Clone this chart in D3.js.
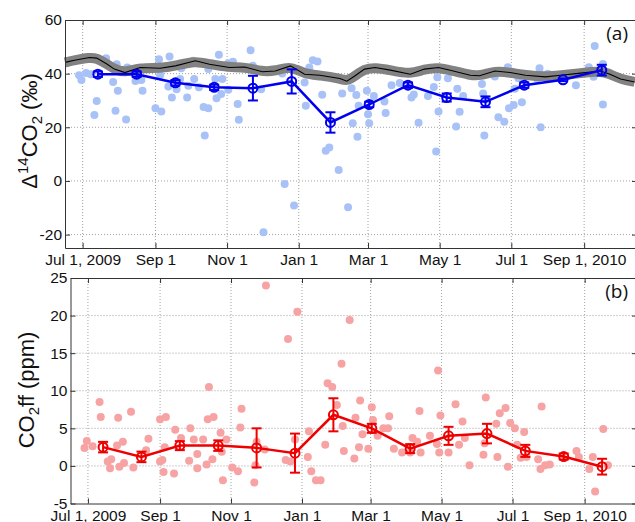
<!DOCTYPE html>
<html>
<head>
<meta charset="utf-8">
<script src="https://cdn.jsdelivr.net/npm/d3@7"></script>
<style>
  body { margin: 0; background: #fff; }
  svg { display: block; font-family: "Liberation Sans", Arial, sans-serif; }
</style>
</head>
<body>
<svg id="chart" width="635" height="522"></svg>
<script>
// days are counted from Jul 1, 2009
var start = new Date(2009, 6, 1);
var tickDays = [0, 62, 123, 184, 243, 304, 365, 427];
var tickLabels = ["Jul 1, 2009", "Sep 1", "Nov 1", "Jan 1", "Mar 1", "May 1", "Jul 1", "Sep 1, 2010"];

// background D14CO2 curve (black line with gray band)
var bgDay = [-15,-7,6,12,21,27,36,49,66,79,96,108,125,138,153,164,177,189,202,219,225,232,240,249,262,279,291,303,313,330,338,351,364,377,394,407,424,441,449,458,470];
var bgD14 = [44.2,45.0,46.0,45.8,43.5,41.7,40.4,42.3,42.0,42.9,44.8,43.5,42.3,42.5,40.7,41.0,42.9,39.8,39.4,38.2,37.2,39.2,41.7,42.3,41.3,39.8,41.7,42.3,41.3,39.4,39.2,41.0,40.4,39.4,38.8,39.4,40.2,41.0,39.8,38.0,36.9];

// individual D14CO2 samples
var d14Day = [-3,-1,3,7,12,10,20,29,26,30,28,37,38,45,50,51,62,67,65,74,66,62,73,76,80,83,84,89,90,94,95,99,103,107,104,107,113,114,116,118,119,124,124,128,132,133,143,145,152,154,170,172,180,190,189,193,196,200,204,207,210,218,221,226,229,230,233,234,235,242,243,244,248,257,258,263,270,280,282,286,294,299,301,302,303,311,318,319,321,324,328,340,341,342,344,351,354,359,362,363,367,368,371,374,387,389,390,396,420,431,435,436,443,443,448];
var d14Val = [39.4,37.6,40.2,39.8,29.8,24.6,45.7,43.5,36.9,33.6,26.2,22.9,42.3,37.3,37.6,33.6,27.1,25.9,45.4,46.4,39.4,41.9,35.2,31.1,34.2,38.0,42.0,31.1,35.5,44.8,38.0,34.9,27.6,27.1,16.9,41.7,38.0,30.8,47.0,32.4,38.0,34.0,43.9,44.4,28.7,22.8,48.7,42.9,34.2,-19.1,40.1,-1.1,-9.2,28.0,36.7,42.3,45.0,44.5,32.1,11.3,12.5,4.1,32.6,-9.8,34.6,21.5,32.0,16.5,28.0,33.6,24.9,21.5,31.7,29.6,25.3,35.7,36.5,31.1,32.2,21.7,31.7,35.0,11.0,38.7,25.9,38.3,20.3,34.4,25.8,31.7,40.1,36.1,32.6,16.9,30.5,38.9,23.7,22.1,42.4,27.1,28.3,34.4,38.3,29.3,38.1,42.0,20.0,40.0,35.7,42.4,38.8,50.3,43.6,28.5,40.4];

// monthly means with errors
var meanDay = [13,46,79,112,145,178,211,244,277,310,343,376,409,442];
var d14Mean = [39.8,39.8,36.6,34.9,34.6,37.1,21.8,28.5,35.7,31.1,29.5,35.7,37.7,41.3];
var d14Err = [1,1,1,1,4.6,4.5,3.8,1,1,1.5,2,1,0.5,2];

// CO2ff samples
var ffDay = [-3,-1,4,10,11,17,20,19,26,25,27,30,31,37,39,50,52,62,67,62,64,66,65,74,75,80,88,87,91,94,94,99,102,104,103,108,107,114,115,116,119,124,129,131,132,143,145,144,153,152,170,172,180,174,178,190,189,192,196,200,204,206,210,214,218,219,220,225,229,230,233,234,236,241,244,245,249,254,258,259,263,270,277,279,283,285,286,294,300,301,303,302,310,316,322,319,324,328,342,340,341,352,351,354,359,363,361,367,369,372,375,377,387,390,389,393,397,420,422,431,434,436,443,447];
var ffVal = [2.4,3.3,2.6,8.5,6.5,0.6,0.9,-0.3,6.4,2.7,-0.1,3.2,0.4,7.2,-0.2,2.1,3.6,6.2,6.5,0.6,0.8,2.5,-0.8,-1.0,4.8,3.7,5.0,0.7,3.5,-0.3,1.6,3.5,0.2,10.5,6.2,6.5,0.9,4.4,1.9,-1.9,3.5,-0.2,-0.7,5.1,7.6,-2.2,3.2,0.1,24.0,2.2,0.8,16.9,20.5,0.6,3.5,4.6,1.2,-0.7,-1.9,-1.9,2.8,11.0,10.5,8.1,13.6,5.3,2.0,19.4,1.0,6.4,2.5,8.7,4.2,2.3,7.8,6.1,4.0,5.0,5.0,6.6,2.3,1.8,1.8,3.7,3.2,7.3,1.8,4.0,2.9,12.7,6.7,1.8,1.8,8.2,5.9,2.8,3.7,0.1,9.1,1.5,3.0,1.2,5.6,7.0,7.7,5.7,-0.1,5.0,2.8,1.1,4.5,1.2,0.9,7.9,-0.4,0.1,0.2,2.0,1.2,-0.4,1.2,-3.4,4.9,0.1];
var ffMean = [2.5,1.2,2.7,2.7,2.4,1.7,6.8,5.0,2.3,4.0,4.3,2.0,1.25,-0.1];
var ffErr = [0.7,0.7,0.6,0.7,2.6,2.6,2.2,0.6,0.6,1.2,1.3,0.8,0.4,1.05];

function day(d) { return d3.timeDay.offset(start, d); }

var svg = d3.select('#chart');
var xDomain = [day(-15), day(472)];

function drawPanel(o) {
  var x = d3.scaleTime().domain(xDomain).range([o.left, o.right]);
  var y = d3.scaleLinear().domain(o.yDomain).range([o.bottom, o.top]);
  var g = svg.append('g');
  var px = function (d) { return x(day(d[0])); };
  var py = function (d) { return y(d[1]); };

  // grid
  g.selectAll('.vgrid').data(tickDays).enter().append('line')
    .attr('x1', function (d) { return x(day(d)); })
    .attr('x2', function (d) { return x(day(d)); })
    .attr('y1', o.top).attr('y2', o.bottom)
    .attr('stroke', '#8a8a8a').attr('stroke-width', 0.8).attr('stroke-dasharray', '1,2');
  g.selectAll('.hgrid').data(o.yTicks).enter().append('line')
    .attr('x1', o.left).attr('x2', o.right)
    .attr('y1', function (d) { return y(d); })
    .attr('y2', function (d) { return y(d); })
    .attr('stroke', '#8a8a8a').attr('stroke-width', 0.8).attr('stroke-dasharray', '1,2');

  // samples
  g.selectAll('.pt').data(d3.zip(o.sDay, o.sVal)).enter().append('circle')
    .attr('cx', px).attr('cy', py)
    .attr('r', 4)
    .attr('fill', o.light);

  if (o.bg) {
    var bgData = d3.zip(o.bg[0], o.bg[1]);
    g.append('path').datum(bgData)
      .attr('d', d3.line().x(px).y(py).curve(d3.curveBasis))
      .attr('fill', 'none').attr('stroke', '#828282').attr('stroke-width', 10);
    g.append('path').datum(bgData)
      .attr('d', d3.line().x(px).y(py))
      .attr('fill', 'none').attr('stroke', '#000').attr('stroke-width', 1.1);
  }

  // means with error bars
  var means = d3.zip(meanDay, o.mean, o.err);
  g.append('path').datum(means)
    .attr('d', d3.line().x(px).y(py))
    .attr('fill', 'none').attr('stroke', o.dark).attr('stroke-width', 2.5);
  var eb = g.selectAll('.eb').data(means).enter().append('g')
    .attr('stroke', o.dark).attr('stroke-width', 2).attr('fill', 'none');
  eb.append('line')
    .attr('x1', px).attr('x2', px)
    .attr('y1', function (d) { return y(d[1] - d[2]); })
    .attr('y2', function (d) { return y(d[1] + d[2]); });
  [-1, 1].forEach(function (s) {
    eb.append('line')
      .attr('x1', function (d) { return px(d) - 5; })
      .attr('x2', function (d) { return px(d) + 5; })
      .attr('y1', function (d) { return y(d[1] + s * d[2]); })
      .attr('y2', function (d) { return y(d[1] + s * d[2]); });
  });
  eb.append('circle').attr('cx', px).attr('cy', py).attr('r', 4.5);

  // axes
  var tickDates = tickDays.map(day);
  g.append('g').attr('transform', 'translate(0,' + o.bottom + ')')
    .call(d3.axisBottom(x).tickValues(tickDates).tickFormat(function (d, i) { return tickLabels[i]; })
      .tickSizeInner(-5).tickSizeOuter(0).tickPadding(6));
  g.append('g').attr('transform', 'translate(0,' + o.top + ')')
    .call(d3.axisTop(x).tickValues(tickDates).tickFormat('').tickSizeInner(-5).tickSizeOuter(0));
  var ay = g.append('g').attr('transform', 'translate(' + o.left + ',0)')
    .call(d3.axisLeft(y).tickValues(o.yLabels).tickSizeInner(-5).tickSizeOuter(0).tickPadding(3));
  g.append('g').attr('transform', 'translate(' + o.right + ',0)')
    .call(d3.axisRight(y).tickValues(o.yLabels).tickFormat('').tickSizeInner(-5).tickSizeOuter(0));
  g.selectAll('.domain').attr('stroke', '#333');
  g.selectAll('.tick line').attr('stroke', '#333');
  g.selectAll('.tick text').attr('font-size', '15.5px').attr('fill', '#111')
    .attr('font-family', '"Liberation Sans", Arial, sans-serif');
  ay.selectAll('.tick text').text(function (d) { return d < 0 ? '-' + Math.abs(d) : d; });

  g.append('text').attr('x', o.right - 9).attr('y', o.top + 20)
    .attr('text-anchor', 'end').attr('font-size', '19px').attr('fill', '#111')
    .attr('font-family', '"Open Sans", "Noto Sans", sans-serif')
    .text(o.tag);
  return g;
}

drawPanel({
  left: 65, right: 637, top: 20, bottom: 248,
  yDomain: [-25, 60], yTicks: [40, 20, 0, -20], yLabels: [60, 40, 20, 0, -20],
  bg: [bgDay, bgD14], sDay: d14Day, sVal: d14Val, mean: d14Mean, err: d14Err,
  light: '#a8c2f7', dark: '#0000ee', tag: '(a)'
});
drawPanel({
  left: 70.5, right: 637, top: 278, bottom: 503.5,
  yDomain: [-5, 25], yTicks: [20, 15, 10, 5, 0], yLabels: [25, 20, 15, 10, 5, 0, -5],
  sDay: ffDay, sVal: ffVal, mean: ffMean, err: ffErr,
  light: '#f7a3a3', dark: '#ee0000', tag: '(b)'
});

// y titles
var t1 = svg.append('text').attr('transform', 'translate(37,131) rotate(-90)')
  .attr('text-anchor', 'middle').attr('font-size', '22px').attr('fill', '#111');
t1.append('tspan').text('\u0394');
t1.append('tspan').attr('font-size', '15px').attr('dy', -9).text('14');
t1.append('tspan').attr('dy', 9).text('CO');
t1.append('tspan').attr('font-size', '15px').attr('dy', 5).text('2');
t1.append('tspan').attr('dy', -5).text(' (\u2030)');

var t2 = svg.append('text').attr('transform', 'translate(34,390) rotate(-90)')
  .attr('text-anchor', 'middle').attr('font-size', '22px').attr('fill', '#111');
t2.append('tspan').text('CO');
t2.append('tspan').attr('font-size', '15px').attr('dy', 5).text('2');
t2.append('tspan').attr('dy', -5).text('ff (ppm)');
</script>
</body>
</html>
